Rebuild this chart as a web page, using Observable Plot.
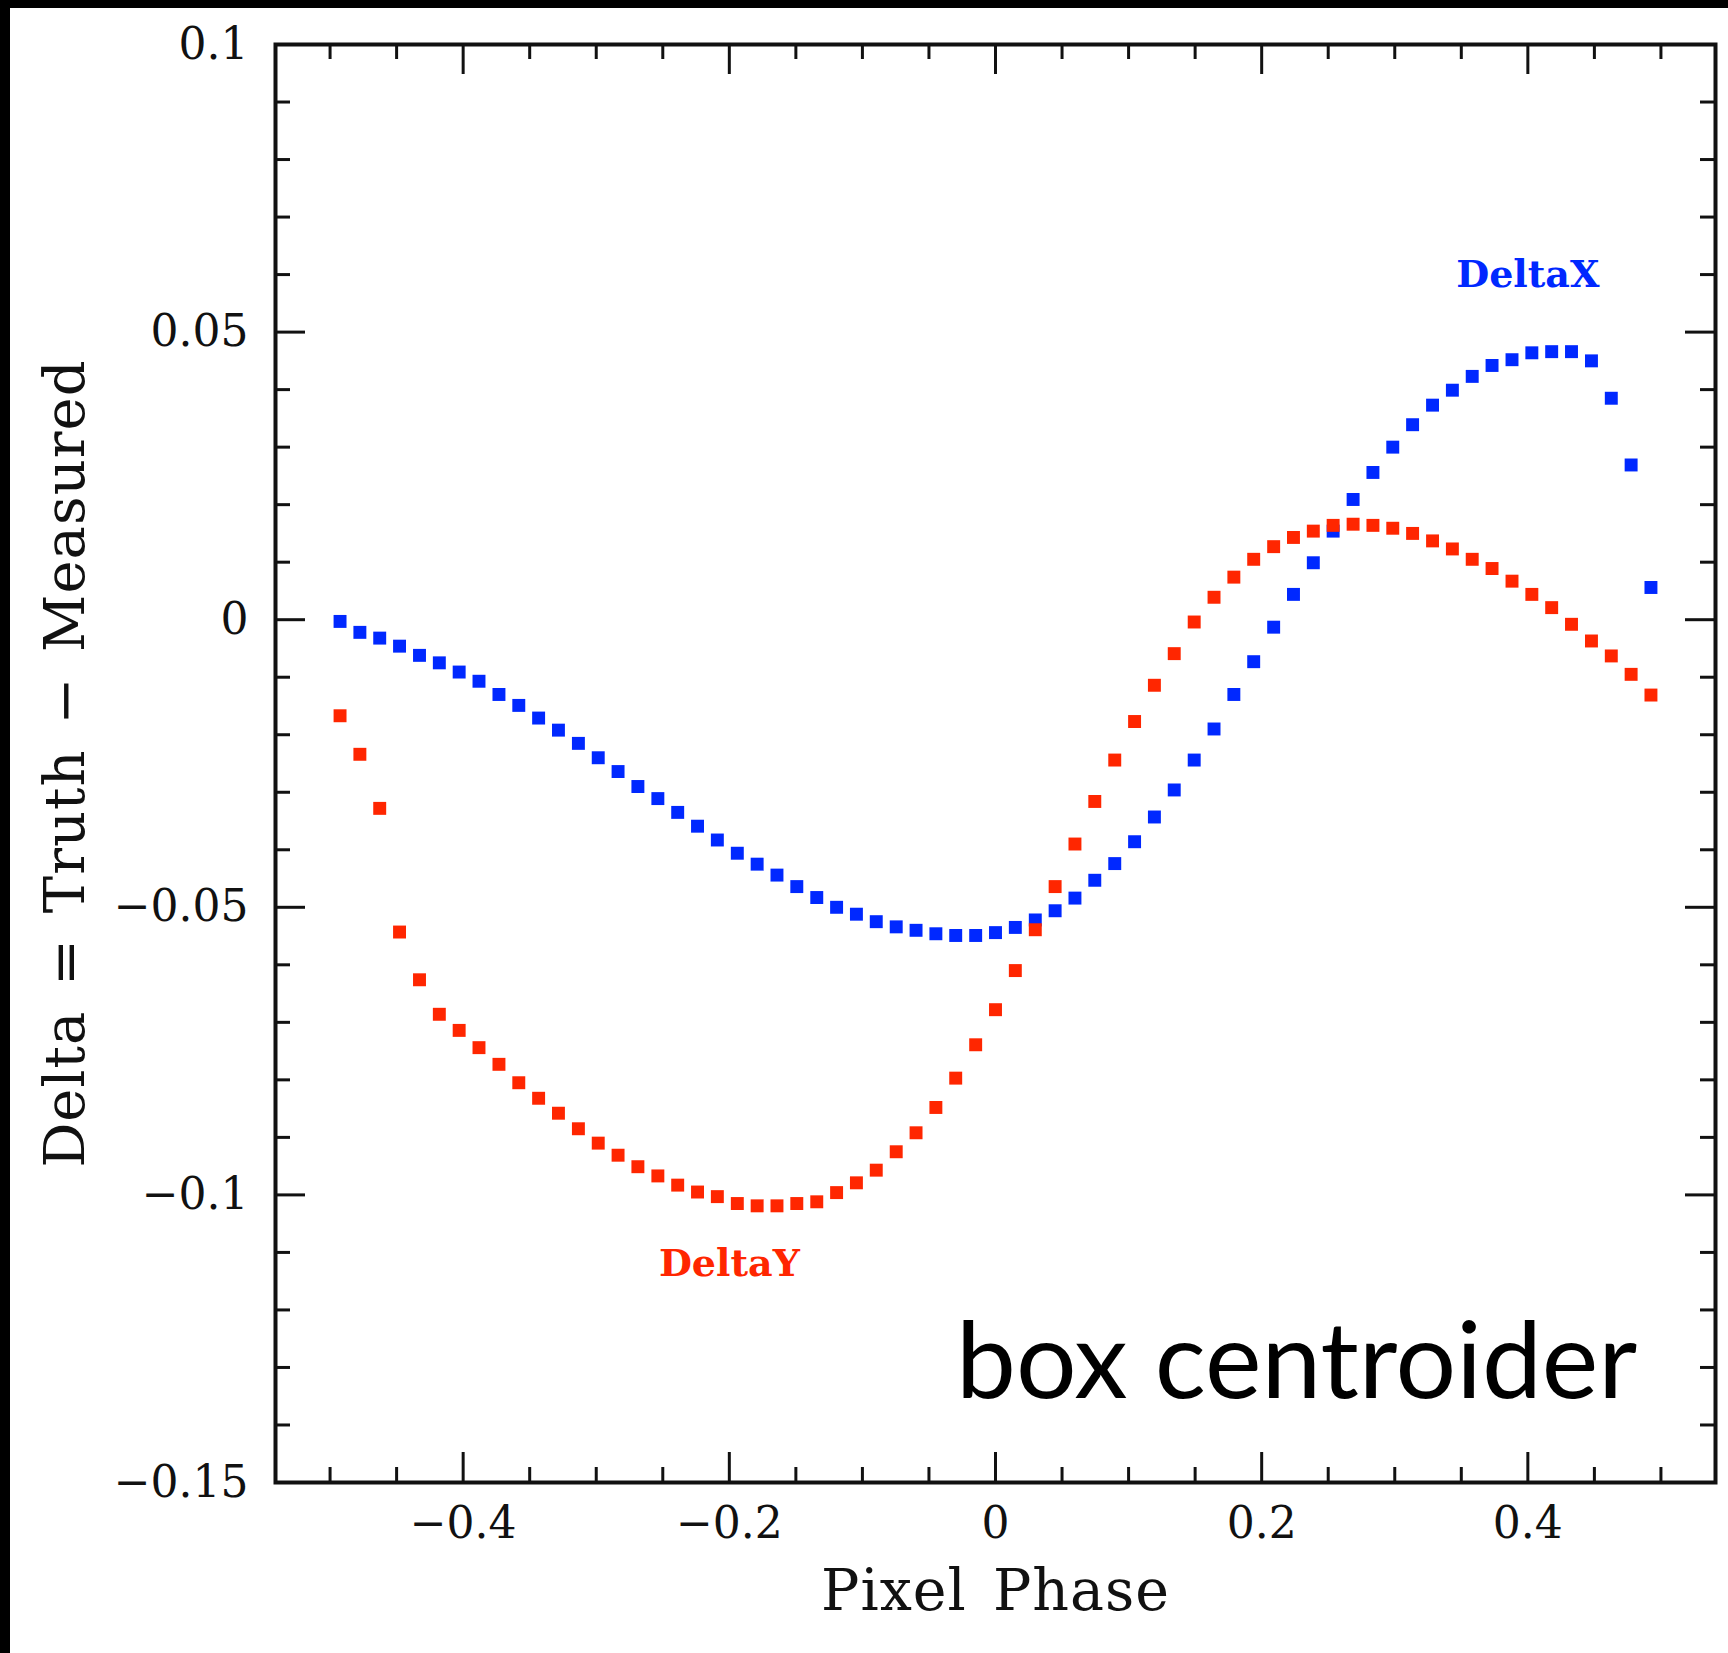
<!DOCTYPE html>
<html>
<head>
<meta charset="utf-8">
<script src="https://cdn.jsdelivr.net/npm/d3@7"></script>
<script src="https://cdn.jsdelivr.net/npm/@observablehq/plot@0.6"></script>
<style>
html, body { margin: 0; padding: 0; background: #fff; }
#chart svg { display: block; border-top: 8px solid #000; border-left: 10px solid #000; }
</style>
</head>
<body>
<div id="chart"></div>
<script>
// Pixel phase (x) for each sample
const phase = [
  -0.4925, -0.4776, -0.4627, -0.4478, -0.4328, -0.4179, -0.4030, -0.3881, -0.3731, -0.3582,
  -0.3433, -0.3284, -0.3134, -0.2985, -0.2836, -0.2687, -0.2537, -0.2388, -0.2239, -0.2090,
  -0.1940, -0.1791, -0.1642, -0.1493, -0.1343, -0.1194, -0.1045, -0.0896, -0.0746, -0.0597,
  -0.0448, -0.0299, -0.0149, 0.0000, 0.0149, 0.0299, 0.0448, 0.0597, 0.0746, 0.0896,
  0.1045, 0.1194, 0.1343, 0.1493, 0.1642, 0.1791, 0.1940, 0.2090, 0.2239, 0.2388,
  0.2537, 0.2687, 0.2836, 0.2985, 0.3134, 0.3284, 0.3433, 0.3582, 0.3731, 0.3881,
  0.4030, 0.4179, 0.4328, 0.4478, 0.4627, 0.4776, 0.4925
];
// DeltaX = Truth - Measured (blue)
const deltaX = [
  -0.0003, -0.0022, -0.0032, -0.0046, -0.0062, -0.0075, -0.0091, -0.0107, -0.0130, -0.0149,
  -0.0171, -0.0192, -0.0215, -0.0240, -0.0264, -0.0290, -0.0311, -0.0335, -0.0359, -0.0383,
  -0.0406, -0.0425, -0.0444, -0.0464, -0.0483, -0.0500, -0.0512, -0.0525, -0.0534, -0.0540,
  -0.0546, -0.0549, -0.0549, -0.0544, -0.0535, -0.0522, -0.0506, -0.0484, -0.0453, -0.0424,
  -0.0386, -0.0343, -0.0296, -0.0244, -0.0190, -0.0130, -0.0073, -0.0013, 0.0044, 0.0099,
  0.0154, 0.0209, 0.0256, 0.0300, 0.0339, 0.0373, 0.0399, 0.0423, 0.0442, 0.0452,
  0.0464, 0.0466, 0.0466, 0.0450, 0.0385, 0.0269, 0.0056
];
// DeltaY = Truth - Measured (red)
const deltaY = [
  -0.0167, -0.0234, -0.0328, -0.0543, -0.0626, -0.0686, -0.0714, -0.0744, -0.0773, -0.0805,
  -0.0832, -0.0858, -0.0885, -0.0910, -0.0931, -0.0951, -0.0967, -0.0983, -0.0995, -0.1003,
  -0.1015, -0.1019, -0.1019, -0.1015, -0.1012, -0.0996, -0.0979, -0.0957, -0.0925, -0.0892,
  -0.0848, -0.0797, -0.0739, -0.0678, -0.0610, -0.0539, -0.0464, -0.0390, -0.0316, -0.0244,
  -0.0177, -0.0114, -0.0059, -0.0004, 0.0039, 0.0074, 0.0105, 0.0127, 0.0143, 0.0154,
  0.0164, 0.0166, 0.0164, 0.0159, 0.0150, 0.0137, 0.0123, 0.0105, 0.0089, 0.0067,
  0.0044, 0.0021, -0.0008, -0.0037, -0.0063, -0.0095, -0.0131
];

const xMajorTicks = [-0.4, -0.2, 0, 0.2, 0.4];
const xTickLabels = ["\u22120.4", "\u22120.2", "0", "0.2", "0.4"];
const xMinorTicks = [-0.5, -0.45, -0.35, -0.3, -0.25, -0.15, -0.1, -0.05, 0.05, 0.1, 0.15, 0.25, 0.3, 0.35, 0.45, 0.5];
const yMajorTicks = [-0.15, -0.1, -0.05, 0, 0.05, 0.1];
const yTickLabels = ["\u22120.15", "\u22120.1", "\u22120.05", "0", "0.05", "0.1"];
const yMinorTicks = [
  -0.14, -0.13, -0.12, -0.11, -0.09, -0.08, -0.07, -0.06, -0.04, -0.03, -0.02, -0.01,
  0.01, 0.02, 0.03, 0.04, 0.06, 0.07, 0.08, 0.09
];

const seriesNames = ["DeltaX", "DeltaY"];
const xTitle = "Pixel Phase";
const yTitle = "Delta = Truth \u2212 Measured";
const panelNote = "box centroider";
const blue = "#0028ff";
const red = "#ff2600";

const rowsX = phase.map((p, i) => ({phase: p, delta: deltaX[i]}));
const rowsY = phase.map((p, i) => ({phase: p, delta: deltaY[i]}));

const W = 1718, H = 1645;
const mL = 265, mT = 36, mR = 13, mB = 171;
const fw = W - mL - mR, fh = H - mT - mB;
const serif = "DejaVu Serif";
const ink = "#111";

const chart = Plot.plot({
  width: W,
  height: H,
  marginLeft: mL,
  marginTop: mT,
  marginRight: mR,
  marginBottom: mB,
  style: {fontFamily: serif, background: "#fff", color: ink},
  x: {domain: [-0.541, 0.541]},
  y: {domain: [-0.15, 0.1]},
  marks: [
    // data
    Plot.dot(rowsX, {x: "phase", y: "delta", symbol: "square", r: 7.3, fill: blue, stroke: null}),
    Plot.dot(rowsY, {x: "phase", y: "delta", symbol: "square", r: 7.3, fill: red, stroke: null}),
    // inward ticks: bottom
    Plot.ruleX(xMajorTicks, {x: d => d, insetTop: fh - 30, stroke: ink, strokeWidth: 3}),
    Plot.ruleX(xMinorTicks, {x: d => d, insetTop: fh - 15, stroke: ink, strokeWidth: 3}),
    // top
    Plot.ruleX(xMajorTicks, {x: d => d, insetBottom: fh - 30, stroke: ink, strokeWidth: 3}),
    Plot.ruleX(xMinorTicks, {x: d => d, insetBottom: fh - 15, stroke: ink, strokeWidth: 3}),
    // left
    Plot.ruleY(yMajorTicks, {y: d => d, insetRight: fw - 30, stroke: ink, strokeWidth: 3}),
    Plot.ruleY(yMinorTicks, {y: d => d, insetRight: fw - 15, stroke: ink, strokeWidth: 3}),
    // right
    Plot.ruleY(yMajorTicks, {y: d => d, insetLeft: fw - 30, stroke: ink, strokeWidth: 3}),
    Plot.ruleY(yMinorTicks, {y: d => d, insetLeft: fw - 15, stroke: ink, strokeWidth: 3}),
    Plot.frame({stroke: ink, strokeWidth: 4}),
    // tick labels
    Plot.axisX({ticks: xMajorTicks, tickFormat: (d, i) => xTickLabels[i], tickSize: 0, tickPadding: 24,
      fontSize: 44, fontFamily: serif, fill: ink, label: null}),
    Plot.axisY({ticks: yMajorTicks, tickFormat: (d, i) => yTickLabels[i], tickSize: 0, tickPadding: 27,
      fontSize: 44, fontFamily: serif, fill: ink, label: null}),
    // axis titles
    Plot.axisX([], {label: xTitle, labelAnchor: "center", labelArrow: "none", labelOffset: 127, tickSize: 0,
      fontSize: 57, fontFamily: serif, fill: ink, ariaLabel: "x-title"}),
    Plot.axisY([], {label: yTitle, labelAnchor: "center", labelArrow: "none", labelOffset: 231, tickSize: 0,
      fontSize: 56, fontFamily: serif, fill: ink, ariaLabel: "y-title"}),
    // series labels
    Plot.text([seriesNames[0]], {x: 0.40, y: 0.06, text: d => d, fill: blue, fontSize: 38, fontWeight: "bold", fontFamily: serif}),
    Plot.text([seriesNames[1]], {x: -0.20, y: -0.112, text: d => d, fill: red, fontSize: 38, fontWeight: "bold", fontFamily: serif}),
    Plot.text([panelNote], {x: -0.0297, y: -0.1293, text: d => d, textAnchor: "start", fill: "#000", fontSize: 107, fontFamily: "Lato"})
  ]
});
// widen the spacing of the axis titles to match the original typesetting
d3.select(chart).selectAll("text").each(function () {
  const t = this.textContent;
  if (t === xTitle) d3.select(this).style("letter-spacing", "1px").style("word-spacing", "7px");
  if (t === yTitle) d3.select(this).style("letter-spacing", "1px").style("word-spacing", "6px");
});
document.getElementById("chart").appendChild(chart);
</script>
</body>
</html>
